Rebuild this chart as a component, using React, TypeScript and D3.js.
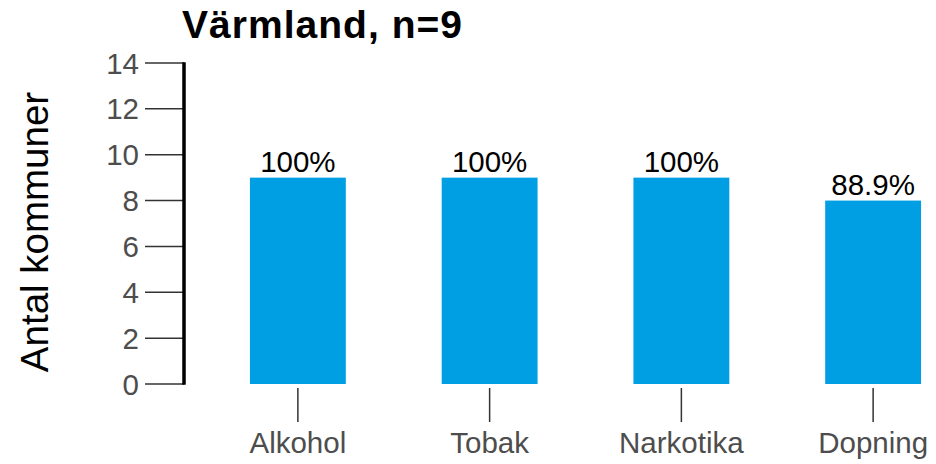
import React from "react";
import * as d3 from "d3";

const categories = ["Alkohol", "Tobak", "Narkotika", "Dopning"];
const values = [9, 9, 9, 8];
const labels = ["100%", "100%", "100%", "88.9%"];
const yTicks = [0, 2, 4, 6, 8, 10, 12, 14];
const title = "Värmland, n=9";
const yTitle = "Antal kommuner";

export default function App() {
  const W = 936, H = 464;
  const x = d3.scaleBand<string>().domain(categories).range([202, 969]).paddingInner(0.5).paddingOuter(0.25);
  const y = d3.scaleLinear().domain([0, 14]).range([384, 63]);
  const font = "'Liberation Sans', Arial, sans-serif";
  return (
    <svg width={W} height={H} style={{ position: "absolute", left: 0, top: 0 }} fontFamily={font}>
      <rect width={W} height={H} fill="#fff" />
      <text x={182} y={38} fontSize={39} fontWeight="bold" fill="#000" textLength={280} lengthAdjust="spacing">{title}</text>
      <text transform={`translate(48,232) rotate(-90)`} textAnchor="middle" fontSize={38.5} fill="#000">{yTitle}</text>
      {yTicks.map(t => (
        <g key={t}>
          <line x1={145} x2={184} y1={y(t)} y2={y(t)} stroke="#333" strokeWidth={1.5} />
          <text x={139} y={y(t)} dy="0.36em" textAnchor="end" fontSize={29.5} fill="#4d4d4d">{t}</text>
        </g>
      ))}
      <line x1={184} x2={184} y1={y(14) - 0.75} y2={y(0) + 0.75} stroke="#000" strokeWidth={3.5} />
      {categories.map((c, i) => {
        const cx = (x(c) as number) + x.bandwidth() / 2;
        return (
          <g key={c}>
            <rect x={x(c)} y={y(values[i])} width={x.bandwidth()} height={y(0) - y(values[i])} fill="#009fe3" />
            <text x={cx} y={y(values[i]) - 6} textAnchor="middle" fontSize={29.5} fill="#000">{labels[i]}</text>
            <line x1={cx} x2={cx} y1={388} y2={422} stroke="#333" strokeWidth={1.5} />
            <text x={cx} y={453} textAnchor="middle" fontSize={29.5} fill="#4d4d4d">{c}</text>
          </g>
        );
      })}
    </svg>
  );
}
